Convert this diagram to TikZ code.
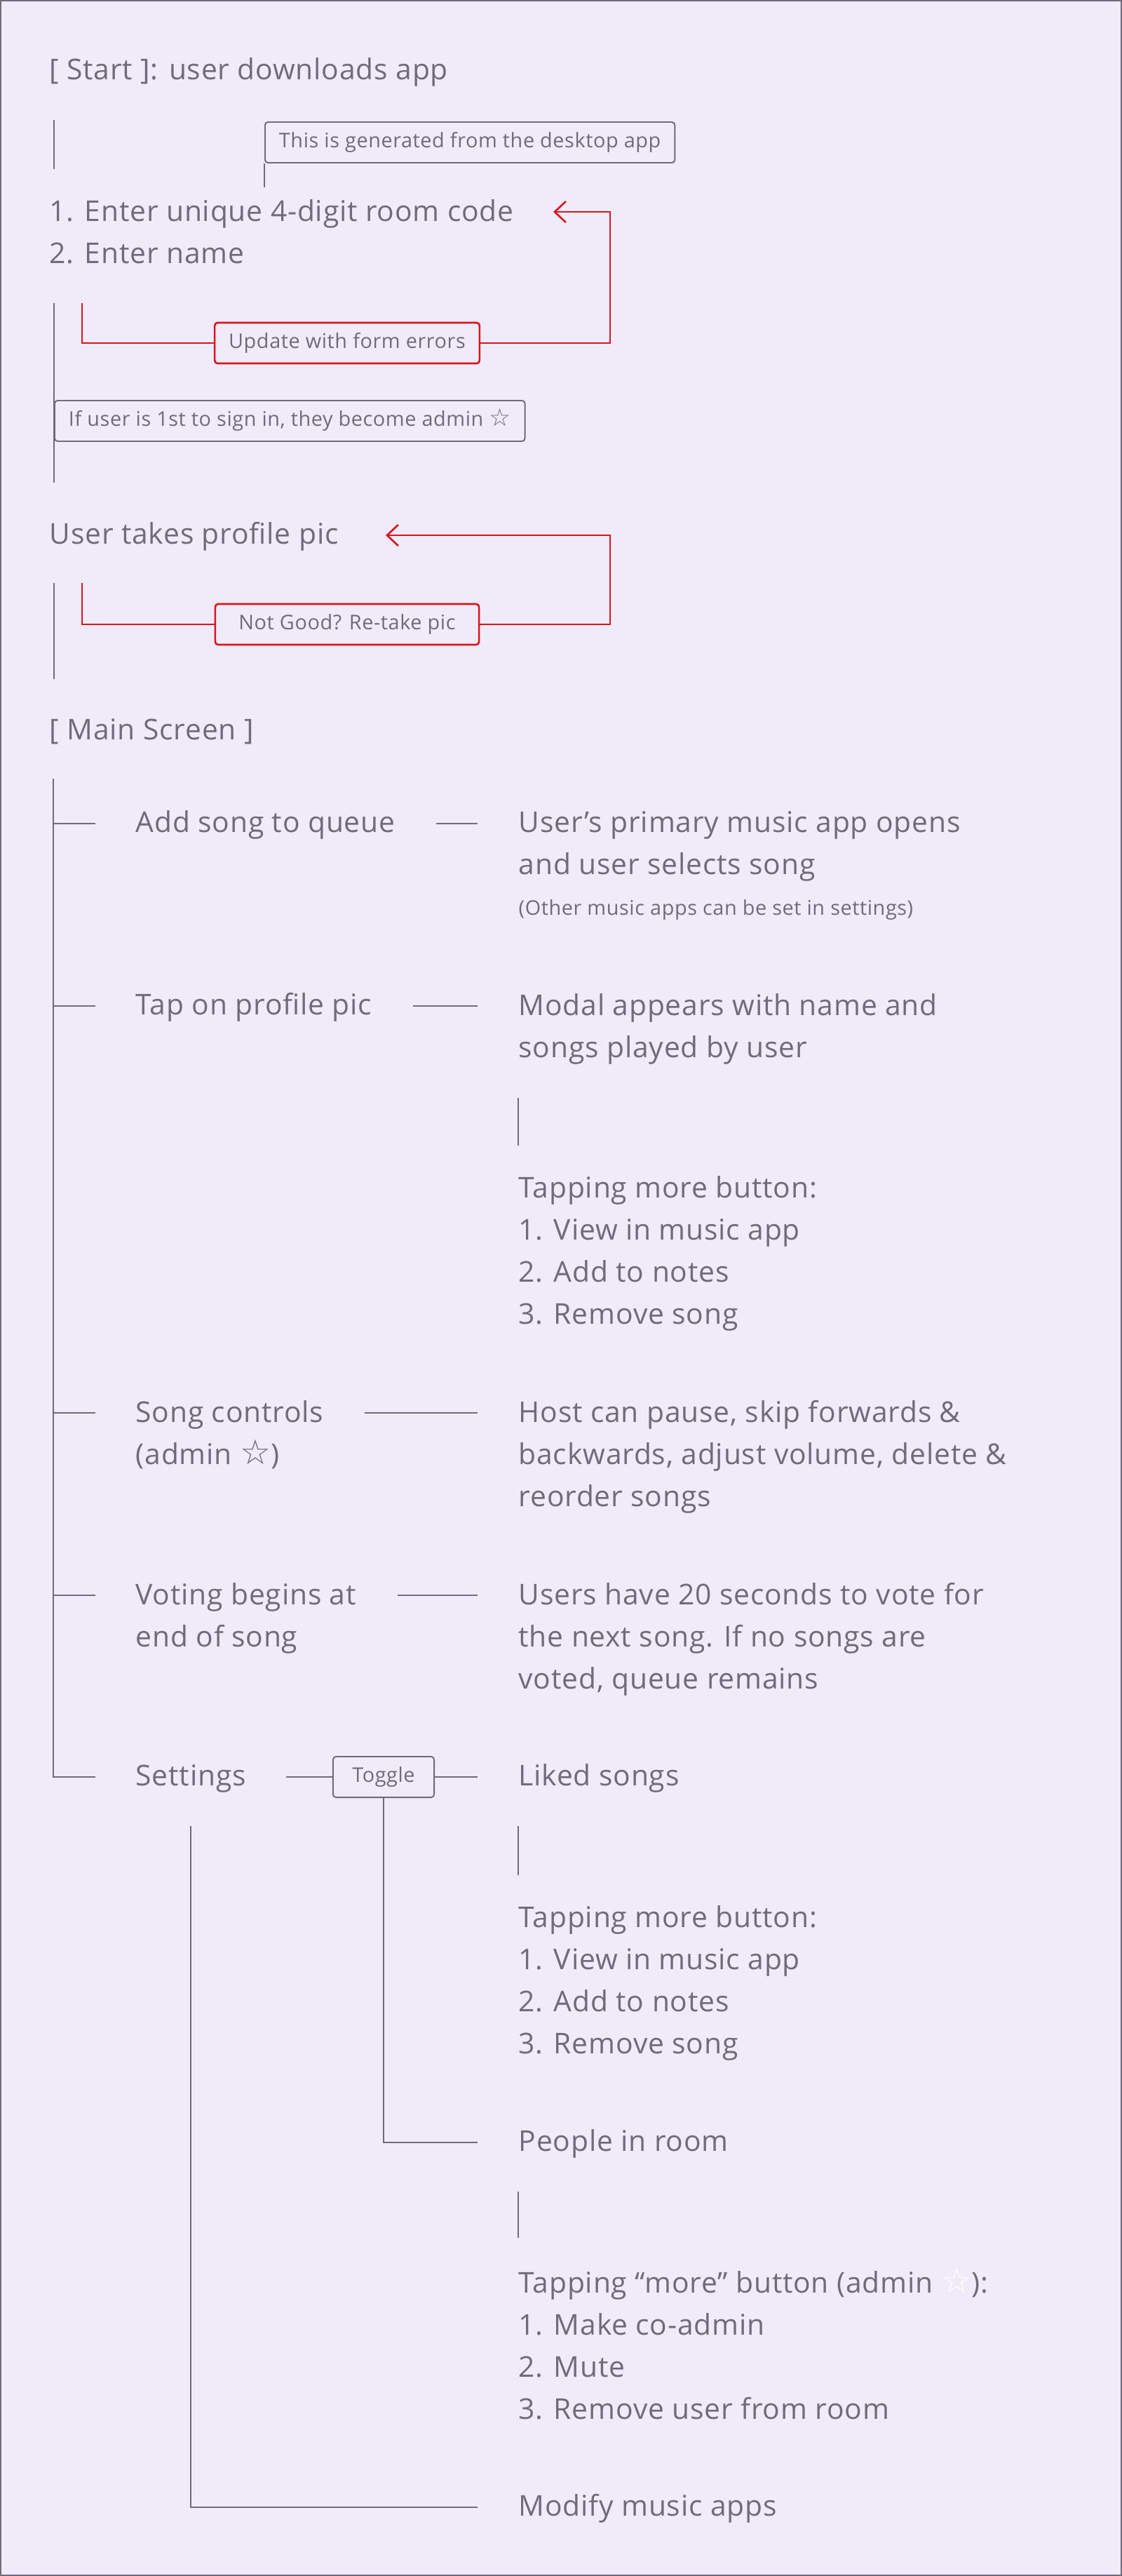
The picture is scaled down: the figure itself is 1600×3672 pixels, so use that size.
\documentclass[tikz,border=0pt]{standalone}
\usepackage{fontspec}
\setmainfont{Open Sans}[LetterSpace=2]
\newfontfamily\symfont{DejaVu Sans}
\usetikzlibrary{arrows.meta}
\definecolor{ink}{HTML}{706B7A}
\definecolor{paper}{HTML}{EFEBF8}
\definecolor{alert}{HTML}{D9141E}
\newcommand{\bigtxt}{\fontsize{11.6}{17.07}\selectfont}
\newcommand{\smalltxt}{\fontsize{8.2}{10}\selectfont}
\newcommand{\adminstar}{{\symfont\fontsize{1.2em}{1em}\selectfont ☆}}

\begin{document}
\begin{tikzpicture}[x=0.01cm, y=-0.01cm,
    every node/.style={anchor=west, align=left, inner sep=0pt, text=ink, font=\bigtxt,
      execute at begin node=\strut, execute at end node=\strut},
    note/.style={draw=ink, line width=0.55pt, rounded corners=1.2pt, fill=paper,
      font=\smalltxt, inner xsep=0.2cm, minimum height=0.58cm},
    fix/.style={note, draw=alert, line width=0.75pt, minimum width=3.76cm, anchor=center},
    link/.style={draw=ink, line width=0.55pt},
    back/.style={draw=alert, line width=0.75pt},
    barb/.style={back, -{Straight Barb[length=1.6mm, width=3mm]}},
    gap/.style={link, shorten <=5.8mm, shorten >=5.8mm},
    stub/.style={link, shorten <=3.9mm, shorten >=4.3mm}]
    \useasboundingbox (0,0) rectangle (1600,3672);
    \draw[fill=paper, draw=ink, line width=0.6pt] (1,1) rectangle (1599,3671);

    % Inicio
    \node (start) at (70,101) {[ Start ]: user downloads app};
    \node (steps) at (70,339) {1. Enter unique 4-digit room code\\2. Enter name};
    \node[note, anchor=north west] (desk) at (377,173) {This is generated from the desktop app};
    \coordinate (code) at (789,302);
    \draw[stub] ([xshift=0.07cm]start.south west) -- ([xshift=0.07cm]steps.north west);
    \draw[link] (desk.south west) -- ++(0,34);

    % Errores del formulario
    \node[fix] (err) at (495,489) {Update with form errors};
    \draw[back, shorten >=3.8mm] (err.west) -| ([xshift=0.47cm]steps.south west);
    \draw[barb] (err.east) -| (870,302) -- (code);

    % Foto de perfil
    \node (prof) at (70,763) {User takes profile pic};
    \coordinate (pic) at (550,763);
    \draw[link, shorten <=3.8mm, shorten >=4.4mm] ([xshift=0.07cm]steps.south west) -- ([xshift=0.07cm]prof.north west);
    \node[note] (first) at (77,600) {If user is 1st to sign in, they become admin \adminstar};
    \node[fix] (retake) at (495,890) {Not Good? Re-take pic};
    \draw[back, shorten >=3.7mm] (retake.west) -| ([xshift=0.47cm]prof.south west);
    \draw[barb] (retake.east) -| (870,763) -- (pic);

    % Pantalla principal
    \node (main) at (70,1042) {[ Main Screen ]};
    \draw[link, shorten <=3.7mm, shorten >=4.3mm] ([xshift=0.07cm]prof.south west) -- ([xshift=0.07cm]main.north west);
    \coordinate (trunk) at (76,1110);
    \coordinate (r3) at (0,2014);
    \coordinate (r4) at (0,2274);

    \node (add) at (193,1174) {Add song to queue};
    \node (tap) at (193,1434) {Tap on profile pic};
    \node (ctrl) at (193,2051) {Song controls\\(admin \adminstar)};
    \node (vote) at (193,2311) {Voting begins at\\end of song};
    \node (set) at (193,2533) {Settings};

    \draw[link, shorten >=5.7mm] (trunk) |- (set.west);
    \draw[link, shorten <=5.7mm] (add.west) -- (add.west -| trunk);
    \draw[link, shorten <=5.7mm] (tap.west) -- (tap.west -| trunk);
    \draw[link, shorten <=5.7mm] (ctrl.west |- r3) -- (r3 -| trunk);
    \draw[link, shorten <=5.7mm] (vote.west |- r4) -- (r4 -| trunk);

    % Respuestas
    \node (app) at (739,1211) {User’s primary music app opens\\and user selects song};
    \node[font=\smalltxt] (other) at (739,1297) {(Other music apps can be set in settings)};
    \node (modal) at (739,1471) {Modal appears with name and\\songs played by user};
    \node (more) at (739,1791) {Tapping more button:\\1. View in music app\\2. Add to notes\\3. Remove song};
    \node (host) at (739,2081) {Host can pause, skip forwards \&\\backwards, adjust volume, delete \&\\reorder songs};
    \node (votes) at (739,2341) {Users have 20 seconds to vote for\\the next song. If no songs are\\voted, queue remains};

    \draw[gap] (add.east) -- (add.east -| app.west);
    \draw[gap] (tap.east) -- (tap.east -| modal.west);
    \draw[gap] (ctrl.east |- r3) -- (r3 -| host.west);
    \draw[gap] (vote.east |- r4) -- (r4 -| votes.west);
    \draw[stub] (modal.south west) -- (more.north west);

    % Ajustes
    \node[note, anchor=center, minimum width=1.44cm] (tog) at (547,2533) {Toggle};
    \node (liked) at (739,2533) {Liked songs};
    \node (more2) at (739,2831) {Tapping more button:\\1. View in music app\\2. Add to notes\\3. Remove song};
    \node (people) at (739,3054) {People in room};
    \node (admin) at (739,3350) {Tapping “more” button (admin {\color{white}\adminstar}):\\1. Make co-admin\\2. Mute\\3. Remove user from room};
    \node (apps) at (739,3574) {Modify music apps};

    \draw[link, shorten <=5.7mm] (set.east) -- (tog.west);
    \draw[link, shorten >=5.8mm] (tog.east) -- (tog.east -| liked.west);
    \draw[stub] (liked.south west) -- (more2.north west);
    \draw[link, shorten >=5.8mm] (tog.south) |- (people.west);
    \draw[stub] (people.south west) -- (admin.north west);
    \draw[link, shorten <=3.9mm, shorten >=5.8mm] (set.south) |- (apps.west);
\end{tikzpicture}
\end{document}
